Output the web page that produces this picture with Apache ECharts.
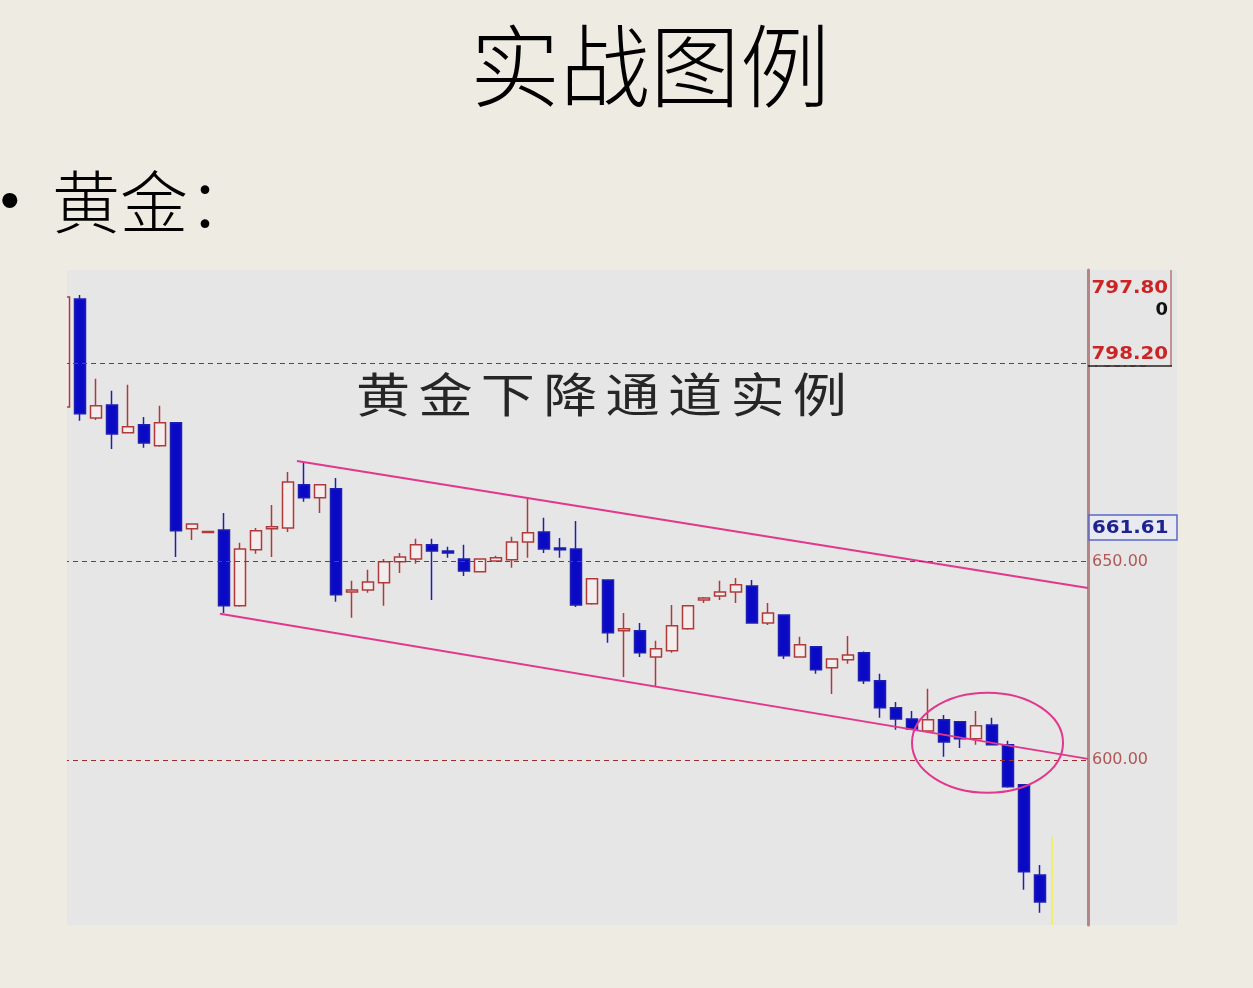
<!DOCTYPE html>
<html><head><meta charset="utf-8">
<script src="https://cdn.jsdelivr.net/npm/echarts@6/dist/echarts.min.js"></script>
<style>html,body{margin:0;padding:0;background:#EEECE2;}#c{width:1253px;height:988px;}</style>
</head><body><div id="c"></div>
<script>
// ---- data ----
const categories = Array.from({length: 65}, (_, i) => 'D' + i);
const opens  = [688.9,716.1,686.1,689.4,682.4,684.4,679.1,684.9,658.2,657.3,657.9,638.8,652.9,658.2,658.4,669.3,666.0,668.3,642.3,642.8,644.6,649.9,650.6,654.2,652.6,650.6,647.4,650.1,650.4,654.9,657.4,653.4,653.1,639.3,645.3,632.5,632.5,625.9,627.5,633.0,640.3,641.3,642.3,643.8,634.5,636.5,625.9,628.5,623.2,625.2,627.0,619.9,613.1,610.3,607.3,610.1,609.6,605.3,608.8,603.8,593.7,571.0];
const closes = [716.6,687.2,689.2,682.1,683.9,679.8,684.9,657.7,659.4,657.5,638.8,653.1,657.7,658.7,670.0,666.0,669.3,641.6,642.8,644.8,649.9,651.1,654.2,652.6,652.1,647.6,650.6,650.9,654.9,657.2,653.1,652.9,639.0,645.6,632.0,633.0,627.0,628.0,633.8,638.8,640.8,642.3,644.1,634.5,637.0,626.2,629.0,622.7,625.4,626.4,619.9,613.1,610.3,607.8,610.1,604.5,605.3,608.6,603.8,593.2,571.8,564.2];
const lows   = [688.5,685.4,685.6,678.3,682.2,678.6,678.9,651.1,655.4,657.2,637.0,638.6,651.9,651.1,657.4,665.0,662.2,639.8,635.8,642.1,638.8,647.1,649.4,640.3,650.9,646.3,647.2,649.9,648.4,650.9,652.1,650.9,638.5,639.1,629.5,620.9,625.9,618.6,627.0,632.8,639.5,640.3,639.5,634.3,634.0,625.4,625.7,621.7,616.6,624.2,619.1,610.6,607.6,607.6,607.1,600.8,603.0,603.8,603.6,593.0,567.3,561.5];
const highs  = [717.0,717.1,696.0,693.0,694.5,686.4,689.2,685.0,659.6,657.6,662.2,654.7,658.4,664.2,672.5,674.8,669.5,671.0,645.1,647.9,650.6,652.1,655.7,655.7,653.7,654.2,650.8,651.4,656.2,666.0,661.0,655.9,660.2,645.8,645.5,637.0,634.5,630.0,639.0,639.0,641.0,645.1,645.8,645.3,639.5,636.7,631.0,628.7,625.6,631.2,627.3,621.7,614.6,612.3,617.9,611.3,609.8,612.3,610.6,604.8,593.9,573.5];
const levels = [700, 650, 600];
const upperChannel = [[14.56, 675.3], [64, 643.3]];
const lowerChannel = [[9.75, 636.8], [64, 600.25]];
const cursorLine = [[61.75, 580.6], [61.75, 558.4]];
const circleCenter = [57.72, 604.3];
const circleRadius = [4.72, 12.6]; // index units, price units
const currentPrice = '661.61';
const topValue1 = '797.80';
const topValue2 = '0';
const topValue3 = '798.20';
const yMin = 558.4, yMax = 723.4;

const candleData = categories.map((c, i) => i < opens.length ? [opens[i], closes[i], lows[i], highs[i]] : '-');

const chart = echarts.init(document.getElementById('c'), null, {renderer: 'canvas'});
const MAG = '#E2378C';
chart.setOption({
  animation: false,
  backgroundColor: '#EEECE2',
  grid: {left: 64, right: 165, top: 270, bottom: 63},
  xAxis: [
    {type: 'category', data: categories, boundaryGap: false, show: false},
    {type: 'value', min: 0, max: 64, show: false}
  ],
  yAxis: {
    type: 'value', position: 'right', min: yMin, max: yMax,
    axisLine: {show: true, onZero: false, lineStyle: {color: '#B58585', width: 3}},
    axisTick: {show: false}, axisLabel: {show: false}, splitLine: {show: false}
  },
  series: [
    {
      type: 'candlestick', xAxisIndex: 0, data: candleData, barWidth: 12,
      itemStyle: {color: '#F3EDED', color0: '#0A0AC6', borderColor: '#B03A3A', borderColor0: '#2020B0', borderWidth: 1.5},
      markLine: {
        silent: true, symbol: ['none', 'none'],
        lineStyle: {type: [5, 4], color: '#A02C2C', width: 1.2},
        label: {position: 'end', formatter: p => Number(p.value).toFixed(2), color: '#B05858', fontSize: 16, fontFamily: 'DejaVu Sans', distance: 4},
        data: levels.map(v => ({yAxis: v}))
      }
    },
    {type: 'line', xAxisIndex: 1, data: upperChannel, symbol: 'none', lineStyle: {color: MAG, width: 2}, z: 4},
    {type: 'line', xAxisIndex: 1, data: lowerChannel, symbol: 'none', lineStyle: {color: MAG, width: 2}, z: 4},
    {type: 'line', xAxisIndex: 1, data: cursorLine, symbol: 'none', lineStyle: {color: '#F2EE6A', width: 2}, z: 4}
  ]
});

const c0 = chart.convertToPixel({seriesIndex: 1}, circleCenter);
const c1 = chart.convertToPixel({seriesIndex: 1}, [circleCenter[0] + circleRadius[0], circleCenter[1] + circleRadius[1]]);
const innerTitle = '黄金下降通道实例'.split('');

const graphics = [
  {type: 'rect', id: 'panel', z: -5, shape: {x: 67, y: 270, width: 1110, height: 655}, style: {fill: '#E6E6E6'}},
  {type: 'rect', id: 'cover', z: 50, shape: {x: 0, y: 265, width: 67, height: 665}, style: {fill: '#EEECE2'}},
  {type: 'text', id: 'title', z: 60, x: 650, y: 66, style: {text: '实战图例', font: '300 90px "Noto Sans CJK SC"', fill: '#000', align: 'center', verticalAlign: 'middle'}},
  {type: 'text', id: 'bullet', z: 60, x: 0, y: 204, style: {text: '•', font: '56px "Liberation Sans"', fill: '#000', align: 'left', verticalAlign: 'middle'}},
  {type: 'text', id: 'gold', z: 60, x: 52, y: 202, style: {text: '黄金：', font: '300 68px "Noto Sans CJK SC"', fill: '#000', align: 'left', verticalAlign: 'middle'}},
  // top-right info box
  {type: 'line', id: 'boxR', z: 60, shape: {x1: 1171, y1: 270, x2: 1171, y2: 366}, style: {stroke: '#C49292', lineWidth: 2}},
  {type: 'rect', id: 'boxBg', z: 58, shape: {x: 1090, y: 340, width: 80, height: 25}, style: {fill: '#E6E6E6'}},
  {type: 'line', id: 'boxU', z: 60, shape: {x1: 1088, y1: 366, x2: 1172, y2: 366}, style: {stroke: '#202020', lineWidth: 1.5}},
  {type: 'text', id: 't1', z: 60, x: 1168, y: 288, scaleX: 1.1, style: {text: topValue1, font: 'bold 18px "DejaVu Sans"', fill: '#CC2424', align: 'right', verticalAlign: 'middle'}},
  {type: 'text', id: 't2', z: 60, x: 1168, y: 310, style: {text: topValue2, font: 'bold 18px "DejaVu Sans"', fill: '#111', align: 'right', verticalAlign: 'middle'}},
  {type: 'text', id: 't3', z: 60, x: 1168, y: 354, scaleX: 1.1, style: {text: topValue3, font: 'bold 18px "DejaVu Sans"', fill: '#CC2424', align: 'right', verticalAlign: 'middle'}},
  // current price box
  {type: 'rect', id: 'cpBox', z: 60, shape: {x: 1089, y: 515, width: 88, height: 25}, style: {fill: '#E9E9F0', stroke: '#5868C8', lineWidth: 1.5}},
  {type: 'text', id: 'cp', z: 61, x: 1092, y: 528, scaleX: 1.1, style: {text: currentPrice, font: 'bold 18px "DejaVu Sans"', fill: '#1E2290', align: 'left', verticalAlign: 'middle'}},
  // circle
  {type: 'ellipse', id: 'ring', z: 20, shape: {cx: c0[0], cy: c0[1], rx: Math.abs(c1[0] - c0[0]), ry: Math.abs(c1[1] - c0[1])}, style: {fill: null, stroke: MAG, lineWidth: 2}}
];
innerTitle.forEach((ch, i) => {
  graphics.push({type: 'text', id: 'it' + i, z: 30, x: 383 + i * 62.4, y: 394, scaleX: 1.15,
    style: {text: ch, font: '47px "Noto Sans CJK SC"', fill: '#262626', align: 'center', verticalAlign: 'middle'}});
});
chart.setOption({graphic: graphics});
</script></body></html>
